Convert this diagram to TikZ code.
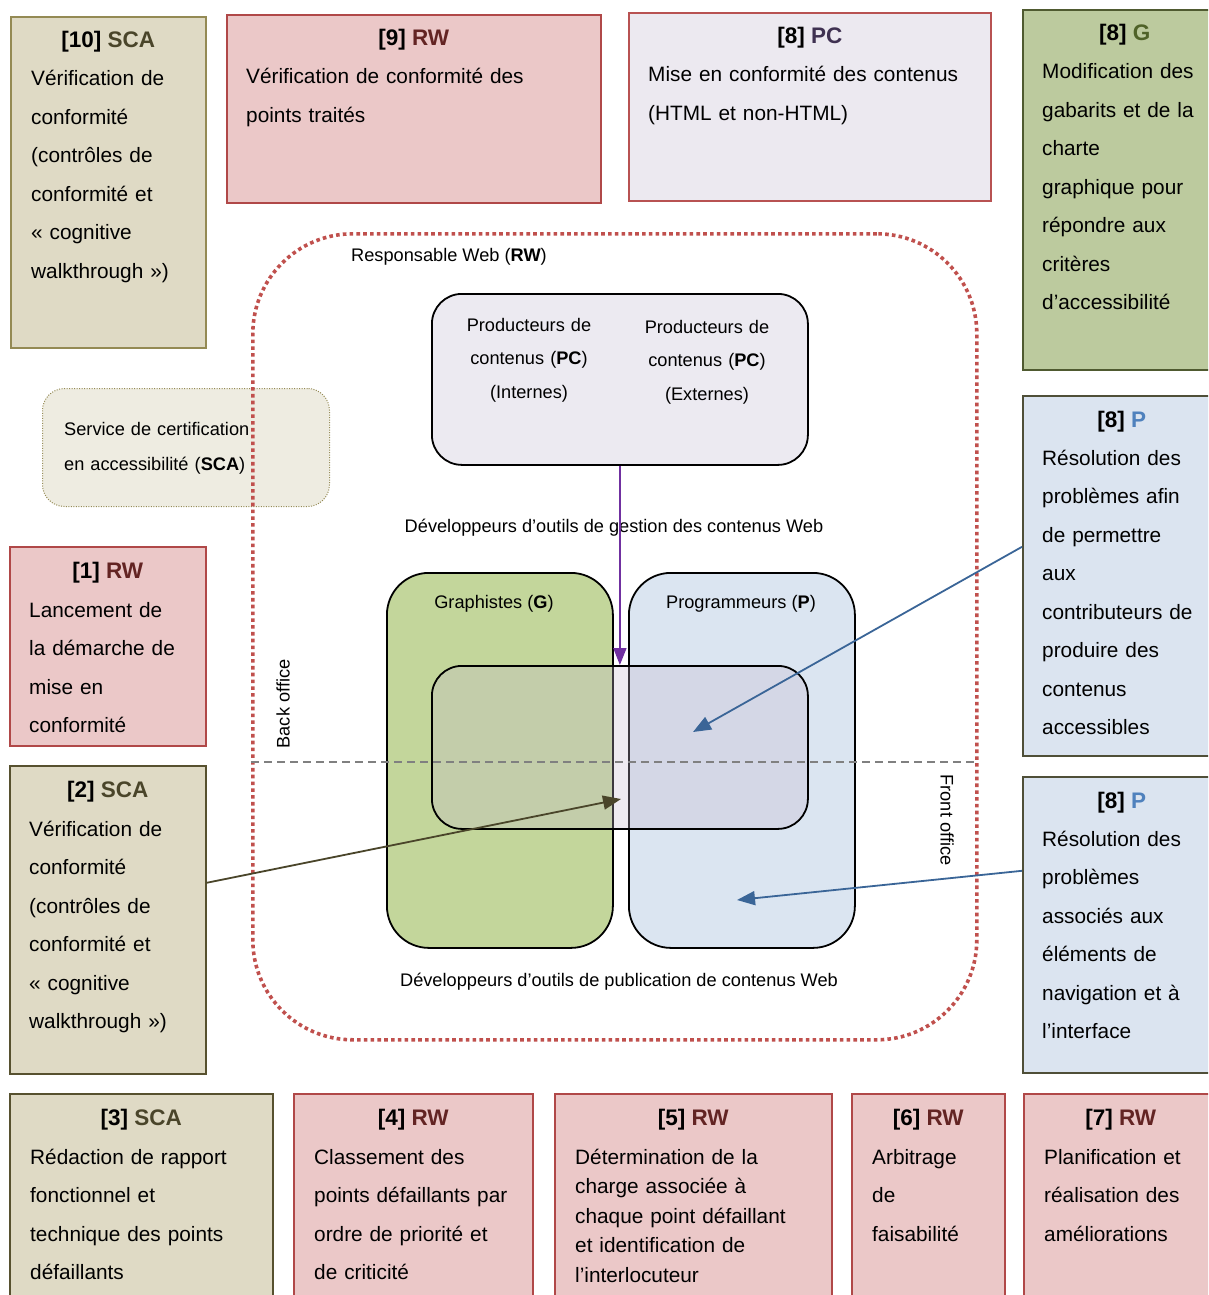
\documentclass[tikz,border=0pt]{standalone}
\usepackage{fontspec}
\setmainfont{Liberation Sans}
\usepackage{xcolor}
\usetikzlibrary{arrows.meta,positioning}
\definecolor{SCAfond}{HTML}{DFDAC5}
\definecolor{SCAbord}{HTML}{57512F}
\definecolor{SCAclair}{HTML}{948A54}
\definecolor{SCAtxt}{HTML}{4A452A}
\definecolor{SCAzone}{HTML}{EEECE1}
\definecolor{RWfond}{HTML}{EBC8C8}
\definecolor{RWbord}{HTML}{B04848}
\definecolor{RWtxt}{HTML}{632423}
\definecolor{RWpoint}{HTML}{C0504D}
\definecolor{PCfond}{HTML}{ECE9F0}
\definecolor{PCbord}{HTML}{B85252}
\definecolor{PCtxt}{HTML}{3F3151}
\definecolor{PCzone}{HTML}{ECEAF1}
\definecolor{Gfond}{HTML}{BCCA9E}
\definecolor{Gbord}{HTML}{4F5A30}
\definecolor{Gtxt}{HTML}{4F6228}
\definecolor{Gzone}{HTML}{C3D69B}
\definecolor{Pfond}{HTML}{DBE4F0}
\definecolor{Pbord}{HTML}{4F4F38}
\definecolor{Ptxt}{HTML}{4F81BD}
\definecolor{Pzone}{HTML}{DBE5F1}
\definecolor{Commun}{RGB}{198,185,205}
\definecolor{Violet}{HTML}{7030A0}
\definecolor{Bleu}{HTML}{3A6597}
\definecolor{Separ}{HTML}{808080}
\newcommand{\corpsfont}{\fontsize{20.8}{38.5}\selectfont}
\newcommand{\titrefont}{\fontsize{22.5}{38.5}\selectfont}
\newcommand{\serrefont}{\fontsize{20.8}{29.5}\selectfont}
\newcommand{\zonefont}{\fontsize{18.2}{33.5}\selectfont}

\begin{document}
\begin{tikzpicture}[
  x=1pt, y=-1pt,
  etape/.style={draw=#1bord, fill=#1fond, line width=1.6pt, anchor=north west, inner sep=0pt},
  titre/.style={anchor=base, inner sep=0pt, font=\titrefont\bfseries},
  corps/.style={anchor=base west, inner sep=0pt, text width=420pt, align=left, font=\corpsfont},
  zone/.style={anchor=north west, inner sep=0pt, draw=black, line width=1.8pt, rounded corners=#1},
  legende/.style={inner sep=0pt, font=\zonefont},
  fleche/.style={-{Triangle[length=18pt,width=14pt]}, line width=1.8pt, draw=#1}
]
\useasboundingbox (0,0) rectangle (1208,1295);
\clip (0,0) rectangle (1208,1295);

\node[etape=SCA, draw=SCAclair, minimum width=195, minimum height=331] (e10) at (10,16) {};
\node[titre] at ([shift={(0,32)}]e10.north) {[10] \textcolor{SCAtxt}{SCA}};
\node[corps] (t10) at ([shift={(21,70)}]e10.north west) {Vérification de\\conformité\\(contrôles de\\conformité et\\«~cognitive\\walkthrough~»)};

\node[etape=RW, minimum width=374, minimum height=188] (e9) at (226,14) {};
\node[titre] at ([shift={(0,32)}]e9.north) {[9] \textcolor{RWtxt}{RW}};
\node[corps] (t9) at ([shift={(20,70)}]e9.north west) {Vérification de conformité des\\points traités};

\node[etape=PC, minimum width=362, minimum height=188] (e8pc) at (628,12) {};
\node[titre] at ([shift={(0,32)}]e8pc.north) {[8] \textcolor{PCtxt}{PC}};
\node[corps] (t8pc) at ([shift={(20,70)}]e8pc.north west) {Mise en conformité des contenus\\(HTML et non-HTML)};

\node[etape=G, minimum width=204, minimum height=360] (e8g) at (1022,9) {};
\node[titre] at ([shift={(0,32)}]e8g.north) {[8] \textcolor{Gtxt}{G}};
\node[corps] (t8g) at ([shift={(20,70)}]e8g.north west) {Modification des\\gabarits et de la\\charte\\graphique pour\\répondre aux\\critères\\d’accessibilité};

\node[etape=P, minimum width=198, minimum height=360] (e8p1) at (1022,395) {};
\node[titre] at ([shift={(0,32)}]e8p1.north) {[8] \textcolor{Ptxt}{P}};
\node[corps] (t8p1) at ([shift={(20,70)}]e8p1.north west) {Résolution des\\problèmes afin\\de permettre\\aux\\contributeurs de\\produire des\\contenus\\accessibles};

\node[etape=P, minimum width=198, minimum height=296] (e8p2) at (1022,776) {};
\node[titre] at ([shift={(0,32)}]e8p2.north) {[8] \textcolor{Ptxt}{P}};
\node[corps] (t8p2) at ([shift={(20,70)}]e8p2.north west) {Résolution des\\problèmes\\associés aux\\éléments de\\navigation et à\\l’interface};

\node[etape=RW, minimum width=196, minimum height=199] (e1) at (9,546) {};
\node[titre] at ([shift={(0,32)}]e1.north) {[1] \textcolor{RWtxt}{RW}};
\node[corps] (t1) at ([shift={(20,71)}]e1.north west) {Lancement de\\la démarche de\\mise en\\conformité};

\node[etape=SCA, minimum width=196, minimum height=308] (e2) at (9,765) {};
\node[titre] at ([shift={(0,32)}]e2.north) {[2] \textcolor{SCAtxt}{SCA}};
\node[corps] (t2) at ([shift={(20,71)}]e2.north west) {Vérification de\\conformité\\(contrôles de\\conformité et\\«~cognitive\\walkthrough~»)};

\node[etape=SCA, minimum width=263, minimum height=230] (e3) at (9,1093) {};
\node[titre] at ([shift={(0,32)}]e3.north) {[3] \textcolor{SCAtxt}{SCA}};
\node[corps] (t3) at ([shift={(21,71)}]e3.north west) {Rédaction de rapport\\fonctionnel et\\technique des points\\défaillants};

\node[etape=RW, minimum width=239, minimum height=230] (e4) at (293,1093) {};
\node[titre] at ([shift={(0,32)}]e4.north) {[4] \textcolor{RWtxt}{RW}};
\node[corps] (t4) at ([shift={(21,71)}]e4.north west) {Classement des\\points défaillants par\\ordre de priorité et\\de criticité};

\node[etape=RW, minimum width=277, minimum height=230] (e5) at (554,1093) {};
\node[titre] at ([shift={(0,32)}]e5.north) {[5] \textcolor{RWtxt}{RW}};
\node[corps, font=\serrefont] (t5) at ([shift={(21,71)}]e5.north west) {Détermination de la\\charge associée à\\chaque point défaillant\\et identification de\\l’interlocuteur};

\node[etape=RW, minimum width=153, minimum height=230] (e6) at (851,1093) {};
\node[titre] at ([shift={(0,32)}]e6.north) {[6] \textcolor{RWtxt}{RW}};
\node[corps] (t6) at ([shift={(21,71)}]e6.north west) {Arbitrage\\de\\faisabilité};

\node[etape=RW, minimum width=194, minimum height=230] (e7) at (1023,1093) {};
\node[titre] at ([shift={(0,32)}]e7.north) {[7] \textcolor{RWtxt}{RW}};
\node[corps] (t7) at ([shift={(21,71)}]e7.north west) {Planification et\\réalisation des\\améliorations};

\node[zone=22pt, draw=SCAclair, fill=SCAzone, line width=1pt, dash pattern=on 1pt off 1.5pt, minimum width=287, minimum height=118] (sca) at (42,388) {};
\node[legende, anchor=base west, text width=260pt, align=left] (tsca) at (64,435) {Service de certification\\[1.5pt]en accessibilité (\textbf{SCA})};

\node[zone=100pt, draw=RWpoint, line width=3.6pt, dash pattern=on 3.6pt off 3.2pt, minimum width=724, minimum height=806] (rw) at (251,232) {};
\node[legende, anchor=base west] (trw) at (351,261) {Responsable Web (\textbf{RW})};

\node[zone=30pt, fill=PCzone, minimum width=376, minimum height=171] (pc) at (431,293) {};
\node[legende, anchor=base, text width=170pt, align=center] (pcint) at (529,331) {Producteurs de\\contenus (\textbf{PC})\\(Internes)};
\node[legende, anchor=base, text width=170pt, align=center] (pcext) at (707,333) {Producteurs de\\contenus (\textbf{PC})\\(Externes)};
\node[legende, anchor=base] (gestion) at (614,532) {Développeurs d’outils de gestion des contenus Web};

\node[zone=42pt, fill=Gzone, minimum width=226, minimum height=375] (graph) at (386,572) {};
\node[zone=42pt, fill=Pzone, minimum width=226, minimum height=375] (prog) at (628,572) {};
\node[legende, anchor=base] at (494,608) {Graphistes (\textbf{G})};
\node[legende, anchor=base] at (741,608) {Programmeurs (\textbf{P})};
\node[zone=30pt, fill=Commun, fill opacity=0.3, minimum width=376, minimum height=163] (commun) at (431,665) {};

\draw[Separ, line width=1.6pt, dash pattern=on 8pt off 5pt] (251,762) -- (975,762);
\node[legende, rotate=90] (back) at (283,704) {Back office};
\node[legende, rotate=-90] (front) at (947,820) {Front office};
\node[legende, anchor=base] (publication) at (619,986) {Développeurs d’outils de publication de contenus Web};

\coordinate (cibleA) at (693,732);
\coordinate (cibleB) at (737,900);
\coordinate (cibleC) at (621,799);
\draw[fleche=Violet, -{Triangle[length=17pt,width=13pt]}] (pc.south) -- (commun.north);
\draw[fleche=Bleu] ([yshift=29pt]e8p1.west) -- (cibleA);
\draw[fleche=Bleu] ([yshift=54pt]e8p2.west) -- (cibleB);
\draw[fleche=SCAtxt] ([yshift=37pt]e2.east) -- (cibleC);
\end{tikzpicture}
\end{document}
